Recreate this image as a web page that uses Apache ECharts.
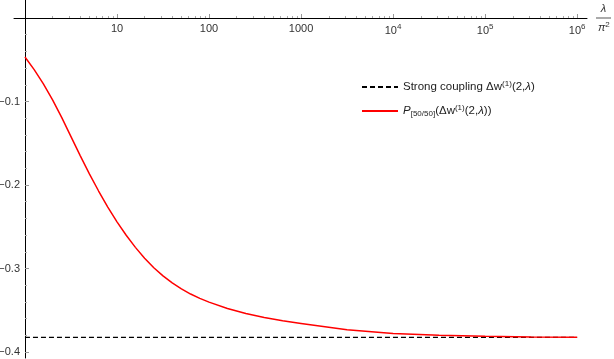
<!DOCTYPE html>
<html>
<head>
<meta charset="utf-8">
<script src="https://cdn.jsdelivr.net/npm/echarts@6/dist/echarts.min.js"></script>
<style>html,body{margin:0;padding:0;background:#fff}#c{width:614px;height:359px}</style>
</head>
<body>
<div id="c"></div>
<script>
// lambda / pi^2 sample positions
const lambdaOverPi2 = [1, 1.259, 1.585, 1.995, 2.512, 3.162, 3.981, 5.012, 6.31, 7.943,
  10, 12.59, 15.85, 19.95, 25.12, 31.62, 39.81, 50.12, 63.1, 79.43,
  100, 158.5, 251.2, 398.1, 631, 1000, 3162, 1e4, 31623, 1e5, 316228, 1e6];
// Pade [50/50] values
const padeValues = [-0.0467, -0.0618, -0.0789, -0.0980, -0.1194, -0.1421, -0.1648, -0.1866, -0.2072, -0.2265,
  -0.2441, -0.2602, -0.2747, -0.2877, -0.2991, -0.3088, -0.3173, -0.3244, -0.3306, -0.3358,
  -0.3403, -0.3479, -0.3540, -0.3588, -0.3627, -0.3658, -0.3734, -0.3778, -0.3801, -0.3813, -0.3820, -0.3823];
// strong coupling constant
const strongX = [1, 1e6];
const strongValue = -0.3825;
// ticks
const xMajorTicks = [10, 100, 1000, 1e4, 1e5, 1e6];
const xMinorTicks = [];
[1, 10, 100, 1000, 1e4, 1e5, 1e6].forEach(d => { for (let k = 2; k <= 9; k++) xMinorTicks.push(d * k); });
const yTicks = [-0.4, -0.3, -0.2, -0.1];

const X_MIN = 0.76, X_MAX = 1.28e6, Y_MIN = -0.4072, Y_MAX = 0;
const FONT = '"Liberation Sans", Arial, sans-serif';
const TXT = '#333';

const chart = echarts.init(document.getElementById('c'), null, {renderer: 'canvas'});
const supFmt = v => {
  if (v < 1e4) return String(Math.round(v));
  const e = Math.round(Math.log10(v));
  return '10{sup|' + e + '}';
};
const pairs = (xs, ys) => xs.map((x, i) => [x, ys[i]]);

chart.setOption({
  animation: false,
  grid: [
    {left: 14, right: 27, top: 18, bottom: 1, containLabel: false, outerBoundsMode: 'none'},
    {left: 14, right: 27, top: 0, height: 18, containLabel: false, outerBoundsMode: 'none'}
  ],
  xAxis: [{
    gridIndex: 0, type: 'log', logBase: 10, min: X_MIN, max: X_MAX, position: 'top',
    axisLine: {show: true, onZero: false, lineStyle: {color: '#000', width: 1}},
    axisTick: {show: true, inside: false, length: 4, customValues: xMajorTicks, lineStyle: {color: '#999'}},
    axisLabel: {show: true, inside: true, customValues: xMajorTicks, formatter: supFmt, color: TXT, fontFamily: FONT, fontSize: 11, margin: 5,
      rich: {sup: {fontSize: 8, fontFamily: FONT, color: TXT, padding: [0, 0, 7, 0]}}},
    splitLine: {show: false},
    name: '{a|λ}\n{l| }\n{b|π}{s|2}',
    nameLocation: 'end', nameGap: 9,
    nameTextStyle: {align: 'left', verticalAlign: 'middle',
      rich: {
        a: {fontSize: 11, fontFamily: FONT, color: TXT, fontStyle: 'italic', align: 'center', width: 15, lineHeight: 14},
        l: {fontSize: 1, width: 15, height: 1, backgroundColor: '#555', lineHeight: 5},
        b: {fontSize: 11, fontFamily: FONT, color: TXT, fontStyle: 'italic', lineHeight: 14, padding: [0, 0, 0, 2]},
        s: {fontSize: 8, fontFamily: FONT, color: TXT, padding: [0, 0, 6, 0], lineHeight: 14}
      }}
  }, {
    gridIndex: 0, type: 'log', logBase: 10, min: X_MIN, max: X_MAX, position: 'top',
    axisLine: {show: false, onZero: false},
    axisTick: {show: true, inside: false, length: 2, customValues: xMinorTicks, lineStyle: {color: '#aaa'}},
    axisLabel: {show: false},
    splitLine: {show: false}
  }, {
    gridIndex: 1, type: 'value', show: false, min: 0, max: 1
  }],
  yAxis: [{
    gridIndex: 0, type: 'value', min: Y_MIN, max: Y_MAX, position: 'left', offset: -11,
    axisLine: {show: true, onZero: false, lineStyle: {color: '#000', width: 1}},
    axisTick: {show: true, inside: true, length: 4, customValues: yTicks, lineStyle: {color: '#999'}},
    minorTick: {show: true, splitNumber: 5, length: 2, lineStyle: {color: '#aaa'}},
    axisLabel: {show: true, customValues: yTicks, color: TXT, fontFamily: FONT, fontSize: 11, margin: 5,
      formatter: v => v.toFixed(1).replace('-', '\u2212')},
    splitLine: {show: false}
  }, {
    gridIndex: 1, type: 'value', min: 0, max: 1, position: 'left', offset: -11,
    axisLine: {show: true, onZero: false, lineStyle: {color: '#000', width: 1}},
    axisTick: {show: false}, axisLabel: {show: false}, splitLine: {show: false}
  }],
  legend: {
    orient: 'vertical', left: 356, top: 75, itemGap: 11, itemWidth: 36, itemHeight: 14,
    itemStyle: {opacity: 0},
    data: ['Strong coupling', 'Pade'],
    textStyle: {fontFamily: FONT, fontSize: 11.5, color: '#222',
      rich: {
        sup: {fontSize: 8, fontFamily: FONT, color: '#222', padding: [0, 0, 6, 0]},
        sub: {fontSize: 8, fontFamily: FONT, color: '#222', padding: [5, 0, 0, 0]},
        it: {fontSize: 11.5, fontFamily: FONT, color: '#222', fontStyle: 'italic'}
      }},
    formatter: n => n === 'Pade'
      ? '{it|P}{sub|[50/50]}(Δw{sup|(1)}(2,{it|λ}))'
      : 'Strong coupling Δw{sup|(1)}(2,{it|λ})'
  },
  series: [{
    name: 'Strong coupling', type: 'line', xAxisIndex: 0, yAxisIndex: 0, symbol: 'none',
    data: pairs(strongX, [strongValue, strongValue]),
    lineStyle: {color: '#000', width: 1.4, type: [5, 3]},
    itemStyle: {color: '#000'}
  }, {
    name: 'Pade', type: 'line', xAxisIndex: 0, yAxisIndex: 0, symbol: 'none', smooth: false,
    data: pairs(lambdaOverPi2, padeValues),
    lineStyle: {color: '#ff0000', width: 1.5},
    itemStyle: {color: '#ff0000'}
  }]
});
</script>
</body>
</html>
